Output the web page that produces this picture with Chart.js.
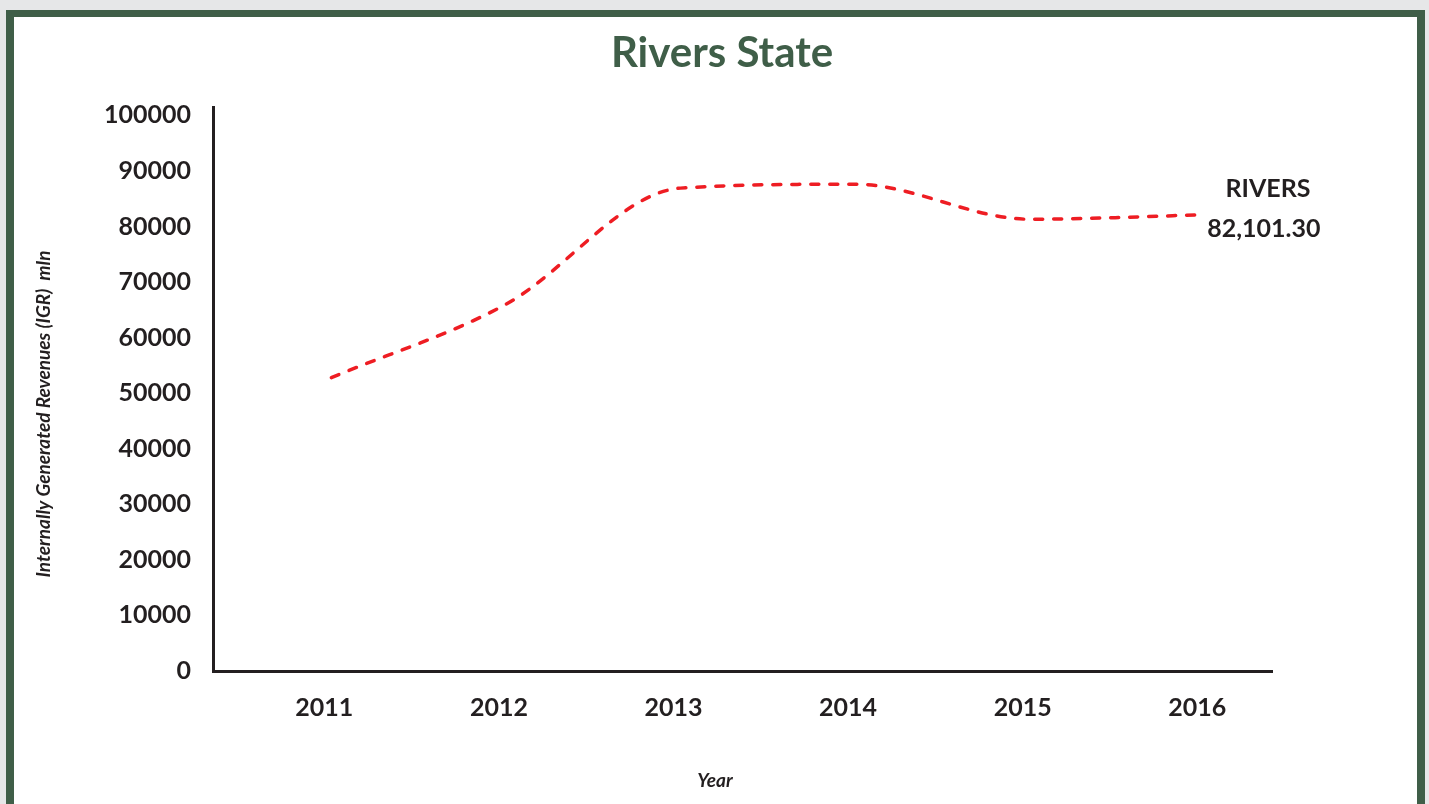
<!DOCTYPE html>
<html>
<head>
<meta charset="utf-8">
<script src="https://cdn.jsdelivr.net/npm/chart.js@4.4.0/dist/chart.umd.min.js"></script>
<style>
html,body{margin:0;padding:0;width:1429px;height:804px;overflow:hidden;background:#e6e7e8;}
#frame{position:absolute;left:6px;top:10px;width:1403px;height:820px;border-style:solid;border-color:#3f5e48;border-width:7px 8px 8px 8px;background:#fff;}
#wrap{position:absolute;left:15px;top:0;width:1414px;height:804px;}
</style>
</head>
<body>
<div id="frame"></div>
<div id="wrap"><canvas id="c" width="1414" height="804"></canvas></div>
<script>
// ---- data ----
const years = [2011, 2012, 2013, 2014, 2015, 2016];
const revenues = [52800, 66000, 86900, 87600, 81300, 82101.3];
const yTicks = [0, 10000, 20000, 30000, 40000, 50000, 60000, 70000, 80000, 90000, 100000];
const seriesName = 'RIVERS';
const chartTitle = 'Rivers State';
const yTitle = 'Internally Generated Revenues (IGR)  mln';
const xTitle = 'Year';

const textColor = '#231f20';
const green = '#3f5e48';
const tickFont = {family: 'Lato', size: 25, weight: 'bold'};

const labelPlugin = {
  id: 'labels',
  afterDraw(chart) {
    const ctx = chart.ctx;
    const meta = chart.getDatasetMeta(0);
    const last = revenues.length - 1;
    const pt = meta.data[last];
    ctx.save();
    ctx.fillStyle = textColor;
    ctx.font = 'bold 25px Lato';
    ctx.textBaseline = 'middle';
    ctx.textAlign = 'left';
    const valText = revenues[last].toLocaleString('en-US', {minimumFractionDigits: 2, maximumFractionDigits: 2});
    const vx = pt.x + 3, vy = pt.y + 14;
    ctx.fillText(valText, vx, vy);
    const w = ctx.measureText(valText).width;
    ctx.textAlign = 'center';
    ctx.fillText(seriesName, vx + w / 2 + 4, vy - 40);
    ctx.font = 'italic bold 19px Lato';
    ctx.fillText(xTitle, 700, 781);
    ctx.translate(29, 414);
    ctx.rotate(-Math.PI / 2);
    ctx.fillText(yTitle, 0, 0);
    ctx.restore();
  }
};

new Chart(document.getElementById('c'), {
  type: 'line',
  data: {
    datasets: [{
      label: seriesName,
      data: years.map((y, i) => ({x: y, y: revenues[i]})),
      borderColor: '#ee1d23',
      borderWidth: 3.5,
      borderDash: [8, 11],
      borderCapStyle: 'round',
      cubicInterpolationMode: 'monotone',
      tension: 0.4,
      pointRadius: 0,
      fill: false,
      clip: false
    }]
  },
  options: {
    responsive: false,
    animation: false,
    layout: {padding: 0},
    plugins: {
      legend: {display: false},
      tooltip: {enabled: false},
      title: {
        display: true,
        text: chartTitle,
        color: green,
        font: {family: 'Lato', size: 42, weight: 'bold', lineHeight: 1.2},
        padding: {top: 28, bottom: 28.6}
      }
    },
    scales: {
      x: {
        type: 'linear',
        min: 2010.322,
        max: 2016.388,
        afterBuildTicks: s => { s.ticks = years.map(v => ({value: v})); },
        afterFit: s => { s.height = 133; },
        grid: {display: false, drawTicks: false},
        border: {display: true, color: textColor, width: 3},
        ticks: {
          callback: v => String(v),
          color: textColor,
          font: tickFont,
          padding: 22,
          labelOffset: -7,
          autoSkip: false,
          maxRotation: 0
        }
      },
      y: {
        type: 'linear',
        position: 'left',
        min: 0,
        max: 101500,
        afterBuildTicks: s => { s.ticks = yTicks.map(v => ({value: v})); },
        afterFit: s => { s.width = 198; },
        grid: {display: false, drawTicks: false},
        border: {display: true, color: textColor, width: 3},
        ticks: {
          callback: v => String(v),
          color: textColor,
          font: tickFont,
          padding: 22
        }
      },
      yR: {
        type: 'linear',
        position: 'right',
        display: true,
        afterFit: s => { s.width = 157; },
        grid: {display: false, drawTicks: false},
        border: {display: false},
        ticks: {display: false}
      }
    }
  },
  plugins: [labelPlugin]
});
</script>
</body>
</html>
